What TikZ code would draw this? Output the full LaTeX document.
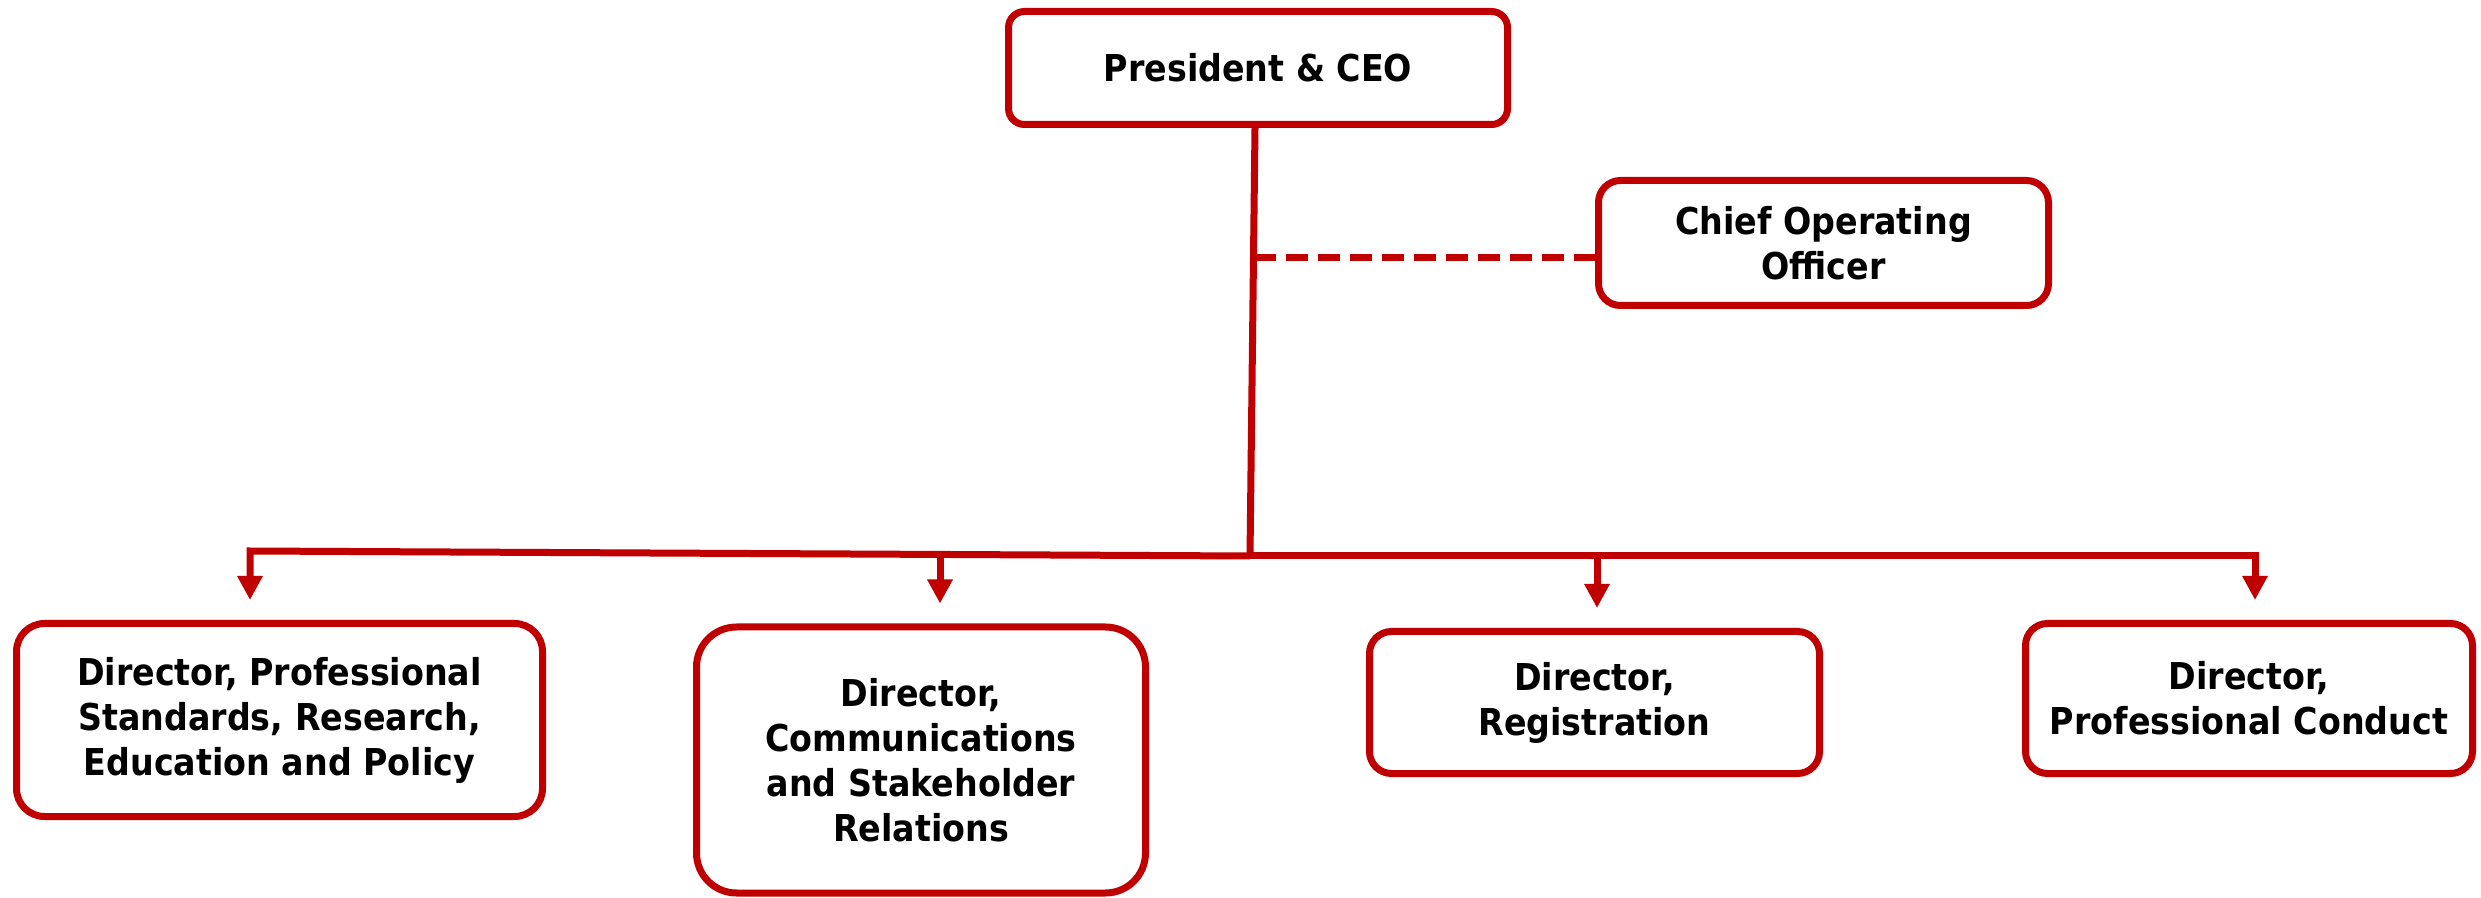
\documentclass[tikz,border=0pt]{standalone}
\usepackage{fontspec}
\setmainfont{DejaVu Sans}[FakeStretch=0.9]
\usetikzlibrary{arrows.meta,calc}
\definecolor{boxred}{HTML}{C00000}
\begin{document}
\begin{tikzpicture}[x=0.5pt,y=-0.5pt,
  box/.style={draw=boxred, line width=3.5pt, rounded corners=#1, align=center,
    font=\bfseries\fontsize{18.5}{22.5}\selectfont, inner sep=0pt, fill=white},
  box/.default=11pt,
  link/.style={draw=boxred, line width=3.5pt},
  arr/.style={link, -{Triangle[width=12pt,length=12pt]}, shorten >=10pt},
  dashlink/.style={link, dash pattern=on 11pt off 5pt}]
\useasboundingbox (0,0) rectangle (2481,898);

\node[box=8pt, minimum width=249.5pt, minimum height=56.5pt] (pres) at (1258,68) {President \& CEO};
\node[box=11pt, minimum width=225pt, minimum height=62.5pt] (coo) at (1823.5,243) {Chief Operating\\Officer};
\node[box=14pt, minimum width=263pt, minimum height=96.5pt] (d1) at (279.5,720) {Director, Professional\\Standards, Research,\\Education and Policy};
\node[box=20pt, minimum width=224.5pt, minimum height=133pt] (d2) at (921,760) {Director,\\Communications\\and Stakeholder\\Relations};
\node[box=11pt, minimum width=225pt, minimum height=71pt] (d3) at (1594.5,702.5) {Director,\\Registration};
\node[box=11pt, minimum width=223.5pt, minimum height=75pt] (d4) at (2249,698.5) {Director,\\Professional Conduct};

\coordinate (pT) at ($(pres.south)+(-3,0)$);
\coordinate (J) at (1250,556);
\coordinate (bL) at (250,551);
\coordinate (bR) at (2255,556);
\coordinate (b2) at (940,555);
\coordinate (b3) at (1597,556);
\coordinate (dS) at (1254,258);

\draw[link] (pT) -- (J);
\draw[dashlink] (dS) -- (dS -| coo.west);
\draw[arr] (J) -- (bL) -- (bL |- d1.north);
\draw[arr] (J) -- (bR) -- (bR |- d4.north);
\draw[arr] (b2) -- (b2 |- d2.north);
\draw[arr] (b3) -- (b3 |- d3.north);
\end{tikzpicture}
\end{document}
